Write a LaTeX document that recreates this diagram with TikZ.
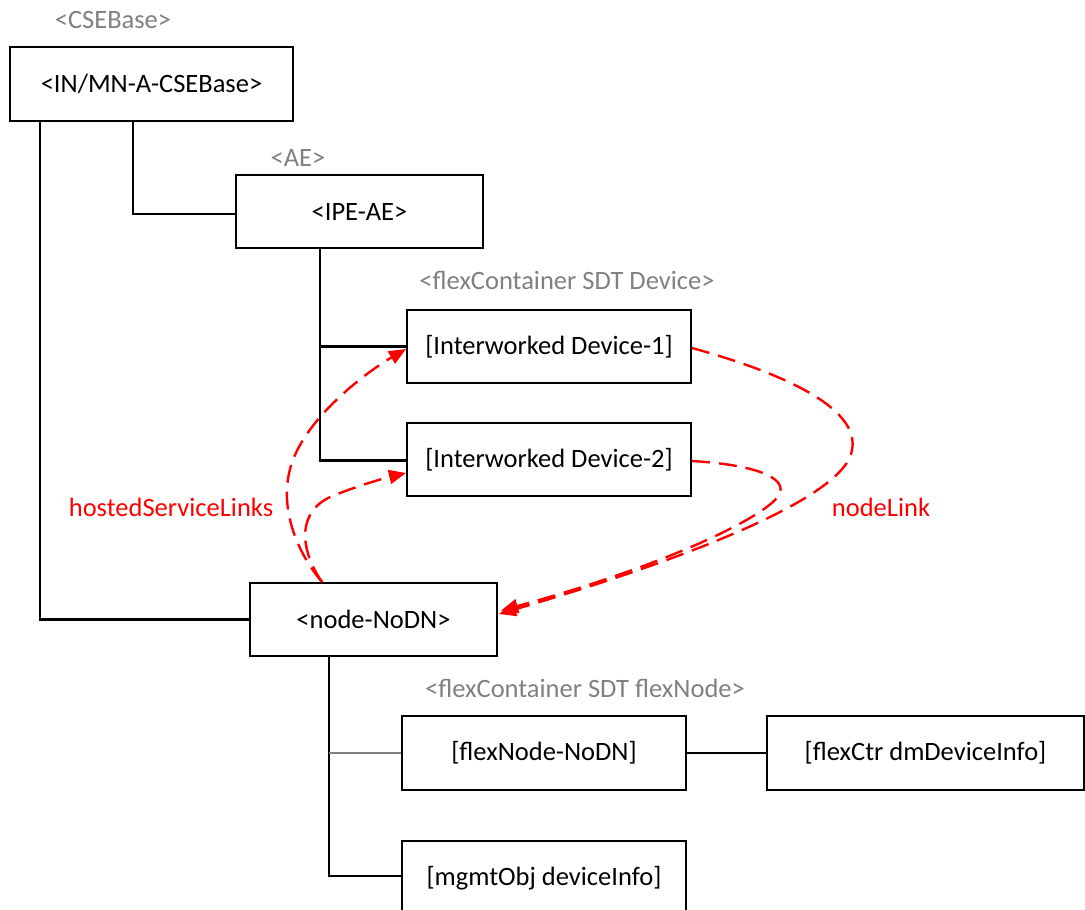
\documentclass[tikz,border=0pt]{standalone}
\usepackage{fontspec}
\setmainfont{Carlito}
\usetikzlibrary{arrows.meta}
\begin{document}
\begin{tikzpicture}[x=1pt,y=-1pt,
  font=\fontsize{26.5}{31}\selectfont,
  box/.style={draw=black,line width=2pt,rectangle,inner sep=0pt,minimum width=#1},
  box/.default=284pt,
  tag/.style={text=gray,inner sep=0pt},
  redtag/.style={text=red,inner sep=0pt},
  tree/.style={draw=black,line width=2.4pt},
  treegray/.style={draw=gray,line width=2.4pt},
  reflink/.style={draw=red,line width=2.4pt,dash pattern=on 18pt off 9pt,
    -{Triangle[length=17pt,width=14pt]}}
]
\useasboundingbox (0,0) rectangle (1085,910);
\clip (0,0) rectangle (1085,910);

% resource labels
\node[tag] (lcse) at (113,20) {<CSEBase>};
\node[tag] (lae) at (298,158) {<AE>};
\node[tag] (ldev) at (567,280) {<flexContainer SDT Device>};
\node[tag] (lflex) at (585,688) {<flexContainer SDT flexNode>};

% resource boxes
\node[box=283pt,minimum height=74pt] (A) at (151.5,84) {<IN/MN-A-CSEBase>};
\node[box=247pt,minimum height=73pt] (B) at (359.5,211.5) {<IPE-AE>};
\node[box,minimum height=73pt] (D1) at (549,346.5) {[Interworked Device-1]};
\node[box,minimum height=73pt] (D2) at (549,459.5) {[Interworked Device-2]};
\node[box=247pt,minimum height=73pt] (N) at (373.5,619.5) {<node-NoDN>};
\node[box,minimum height=74pt] (F) at (544,753) {[flexNode-NoDN]};
\node[box=317pt,minimum height=74pt] (C) at (925.5,753) {[flexCtr dmDeviceInfo]};
\node[box,minimum height=74pt] (M) at (544,878) {[mgmtObj deviceInfo]};

% containment tree
\draw[tree] ([xshift=124pt]A.south west) |- ([shift={(0,2.5)}]B.west);
\draw[tree] ([xshift=31pt]A.south west) |- (N.west);
\coordinate (tb) at ([xshift=85pt]B.south west);
\draw[tree] (tb) |- ([shift={(0,1)}]D2.west);
\draw[tree] (D1.west -| tb) -- (D1.west);
\coordinate (tn) at ([xshift=80pt]N.south west);
\draw[tree] (tn) |- ([shift={(0,-2)}]M.west);
\draw[treegray] (F.west -| tn) -- (F.west);
\draw[tree] (F.east) -- (C.west);

% link attributes
\draw[reflink] ([xshift=73pt]N.north west)
  .. controls (295,550) and (275,500) .. (295,455)
  .. controls (315,410) and (370,370) .. ([shift={(0,2.5)}]D1.west);
\draw[reflink] ([xshift=73pt]N.north west)
  .. controls (300,550) and (295,510) .. (335,495)
  .. controls (360,485) and (385,478) .. ([shift={(0,13.5)}]D2.west);
\draw[reflink] ([shift={(0,1.5)}]D1.east)
  .. controls (790,375) and (860,410) .. (852,450)
  .. controls (846,495) and (700,555) .. ([shift={(1,-5.5)}]N.east);
\draw[reflink] ([shift={(0,1.5)}]D2.east)
  .. controls (760,465) and (795,480) .. (775,500)
  .. controls (750,525) and (650,570) .. ([shift={(3,-9)}]N.east);

\node[redtag] (lhosted) at (171,507) {hostedServiceLinks};
\node[redtag] (lnode) at (881,507) {nodeLink};
\end{tikzpicture}
\end{document}
